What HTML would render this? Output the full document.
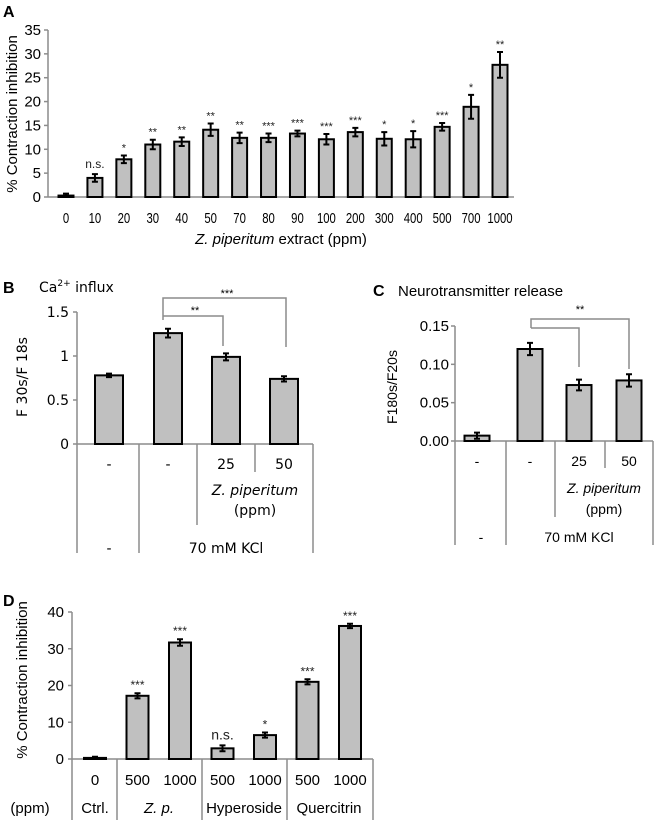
<!DOCTYPE html>
<html><head><meta charset="utf-8"><style>
body{margin:0;background:#fff}
svg{display:block;font-family:"Liberation Sans",sans-serif}
</style></head><body>
<svg id="fig" width="668" height="820" viewBox="0 0 668 820" xmlns="http://www.w3.org/2000/svg"></svg>
<script>
// Panel A data
const catsA=["0","10","20","30","40","50","70","80","90","100","200","300","400","500","700","1000"];
const valsA=[0.3,4,7.9,11,11.6,14.1,12.4,12.4,13.3,12.1,13.6,12.2,12.1,14.7,18.9,27.7];
const errA=[0.4,0.8,0.8,1,0.9,1.3,1.1,0.9,0.6,1.1,0.9,1.4,1.7,0.8,2.5,2.7];
const sigA=["","n.s.","*","**","**","**","**","***","***","***","***","*","*","***","*","**"];
const ticksA=[0,5,10,15,20,25,30,35];
// Panel B data
const valsB=[0.78,1.26,0.99,0.74];
const errB=[0.02,0.05,0.04,0.03];
const ticksB=["0","0.5","1","1.5"];
// Panel C data
const valsC=[0.007,0.12,0.073,0.079];
const errC=[0.004,0.008,0.007,0.008];
const ticksC=["0.00","0.05","0.10","0.15"];
// Panel D data
const catsD=["0","500","1000","500","1000","500","1000"];
const valsD=[0.3,17.2,31.7,2.9,6.5,21,36.2];
const errD=[0.3,0.7,0.9,0.8,0.7,0.7,0.6];
const sigD=["","***","***","n.s.","*","***","***"];
const ticksD=[0,10,20,30,40];

const svg=document.getElementById('fig');
const NS="http://www.w3.org/2000/svg";
function mk(tag,at,parent){const e=document.createElementNS(NS,tag);for(const k in at)e.setAttribute(k,at[k]);(parent||svg).appendChild(e);return e;}
function txt(s,x,y,at,name){const e=mk('text',Object.assign({x:x,y:y},at));e.textContent=s;


return e;}
function line(x1,y1,x2,y2,col,w,name){const e=mk('line',{x1,y1,x2,y2,stroke:col,'stroke-width':w});


return e;}
function bar(cx,w,y0,y1,name){const e=mk('rect',{x:cx-w/2,y:y1,width:w,height:y0-y1,fill:'#c0c0c0',stroke:'#000','stroke-width':2});


}
function errbar(cx,yt,yb,name){const g=mk('path',{d:`M${cx},${yt}V${yb}M${cx-3},${yt}H${cx+3}M${cx-3},${yb}H${cx+3}`,stroke:'#000','stroke-width':2,fill:'none'});


}
const GR='#8c8c8c';

// ---------- Panel A ----------
(function(){
 const y0=197,yTop=30,vmax=35;const ys=v=>y0-(v/vmax)*(y0-yTop);
 const x0=66,dx=(500-66)/15;const xs=i=>x0+i*dx;
 txt('A',3,17,{'font-weight':'bold','font-size':16},'panel-a-label');
 line(48,yTop,48,y0,GR,1.5,'a-y-axis');
 line(48,y0,514,y0,GR,1.5,'a-x-axis');
 ticksA.forEach(t=>{line(44,ys(t),48,ys(t),GR,1.5,'a-y-tick');txt(String(t),41,ys(t)+5,{'font-size':15,'text-anchor':'end'},'a-y-tick-label');});
 catsA.forEach((c,i)=>{
  const x=xs(i);
  bar(x,15,y0,ys(valsA[i]),'a-bar-'+c);
  errbar(x,ys(valsA[i]+errA[i]),ys(Math.max(0,valsA[i]-errA[i])),'a-error-bar');
  txt(c,x,223,{'font-size':15,'text-anchor':'middle',textLength:c.length*6.3,lengthAdjust:'spacingAndGlyphs'},'a-x-tick-label');
  if(sigA[i])txt(sigA[i],x,ys(valsA[i]+errA[i])-(sigA[i]==='n.s.'?6:4),{'font-size':sigA[i]==='n.s.'?12:11,'text-anchor':'middle',fill:'#222'},'a-significance');
 });
 const t=txt('',281,244,{'font-size':15,'text-anchor':'middle'},'a-x-axis-title');
 t.innerHTML='<tspan font-style="italic">Z. piperitum</tspan> extract (ppm)';
 txt('% Contraction inhibition',0,0,{'font-size':15,'text-anchor':'middle',transform:'translate(17,114) rotate(-90)'},'a-y-axis-title');
})();

// ---------- Panel B ----------
(function(){
 const y0=444,yTop=312,vmax=1.5;const ys=v=>y0-(v/vmax)*(y0-yTop);
 const xs=[109,168,226,284];
 const F={'font-family':'"DejaVu Sans",sans-serif'};
 txt('B',3,293,{'font-weight':'bold','font-size':16},'panel-b-label');
 const tt=txt('',39,292,Object.assign({'font-size':14},F),'b-title');tt.innerHTML='Ca<tspan font-size="9" dy="-6">2+</tspan><tspan dy="6"> influx</tspan>';
 line(77,yTop,77,553,GR,1.5,'b-y-axis');
 line(77,y0,313,y0,GR,1.5,'b-x-axis');
 ticksB.forEach(t=>{const y=ys(parseFloat(t));line(73,y,77,y,GR,1.5,'b-y-tick');txt(t,69,y+5,Object.assign({'font-size':14,'text-anchor':'end'},F),'b-y-tick-label');});
 valsB.forEach((v,i)=>{bar(xs[i],28,y0,ys(v),'b-bar');errbar(xs[i],ys(v+errB[i]),ys(v-errB[i]),'b-error-bar');});
 line(139,y0,139,553,GR,1.5,'b-table-line');line(197,y0,197,525,GR,1.5,'b-table-line');
 line(255,y0,255,472,GR,1.5,'b-table-line');line(313,y0,313,553,GR,1.5,'b-table-line');
 ["-","-","25","50"].forEach((s,i)=>txt(s,xs[i],469,Object.assign({'font-size':14,'text-anchor':'middle'},F),'b-row1-label'));
 txt('Z. piperitum',255,495,Object.assign({'font-size':14,'text-anchor':'middle','font-style':'italic'},F),'b-treatment-label');
 txt('(ppm)',255,515,Object.assign({'font-size':14,'text-anchor':'middle'},F),'b-unit-label');
 txt('-',109,553,Object.assign({'font-size':14,'text-anchor':'middle'},F),'b-row3-label');
 txt('70 mM KCl',226,553,Object.assign({'font-size':14,'text-anchor':'middle'},F),'b-kcl-label');
 txt('F 30s/F 18s',0,0,Object.assign({'font-size':14,'text-anchor':'middle',transform:'translate(27,377) rotate(-90)'},F),'b-y-axis-title');
 const p=mk('path',{d:'M163,320V298H286V347M163,316H223V346',stroke:GR,'stroke-width':1.5,fill:'none'});
 
 
 txt('***',227,297,{'font-size':11,'text-anchor':'middle'},'b-significance');
 txt('**',195,314,{'font-size':11,'text-anchor':'middle'},'b-significance');
})();

// ---------- Panel C ----------
(function(){
 const y0=441,yTop=326,vmax=0.15;const ys=v=>y0-(v/vmax)*(y0-yTop);
 const xs=[477,530,579,629];
 txt('C',373,296,{'font-weight':'bold','font-size':16},'panel-c-label');
 txt('Neurotransmitter release',398,296,{'font-size':15},'c-title');
 line(455,yTop,455,545,GR,1.5,'c-y-axis');
 line(455,y0,653,y0,GR,1.5,'c-x-axis');
 ticksC.forEach(t=>{const y=ys(parseFloat(t));line(451,y,455,y,GR,1.5,'c-y-tick');txt(t,449,y+5,{'font-size':15,'text-anchor':'end'},'c-y-tick-label');});
 valsC.forEach((v,i)=>{bar(xs[i],25,y0,ys(v),'c-bar');errbar(xs[i],ys(v+errC[i]),ys(Math.max(0,v-errC[i])),'c-error-bar');});
 line(506,y0,506,545,GR,1.5,'c-table-line');line(555,y0,555,517,GR,1.5,'c-table-line');
 line(605,y0,605,468,GR,1.5,'c-table-line');line(653,y0,653,545,GR,1.5,'c-table-line');
 ["-","-","25","50"].forEach((s,i)=>txt(s,xs[i],466,{'font-size':14,'text-anchor':'middle'},'c-row1-label'));
 txt('Z. piperitum',604,493,{'font-size':14,'text-anchor':'middle','font-style':'italic'},'c-treatment-label');
 txt('(ppm)',604,514,{'font-size':14,'text-anchor':'middle'},'c-unit-label');
 txt('-',481,542,{'font-size':14,'text-anchor':'middle'},'c-row3-label');
 txt('70 mM KCl',579,542,{'font-size':14,'text-anchor':'middle'},'c-kcl-label');
 txt('F180s/F20s',0,0,{'font-size':14,'text-anchor':'middle',transform:'translate(397,387) rotate(-90)'},'c-y-axis-title');
 const p=mk('path',{d:'M531,328V319H629V369M531,328H579V367',stroke:GR,'stroke-width':1.5,fill:'none'});
 
 
 txt('**',580,313,{'font-size':11,'text-anchor':'middle'},'c-significance');
})();

// ---------- Panel D ----------
(function(){
 const y0=759,yTop=612,vmax=40;const ys=v=>y0-(v/vmax)*(y0-yTop);
 const x0=95,dx=42.5;const xs=i=>x0+i*dx;
 txt('D',3,606,{'font-weight':'bold','font-size':16},'panel-d-label');
 line(72,yTop,72,820,GR,1.5,'d-y-axis');
 line(72,y0,373,y0,GR,1.5,'d-x-axis');
 ticksD.forEach(t=>{line(68,ys(t),72,ys(t),GR,1.5,'d-y-tick');txt(String(t),64,ys(t)+5,{'font-size':15,'text-anchor':'end'},'d-y-tick-label');});
 catsD.forEach((c,i)=>{
  const x=xs(i);
  bar(x,22,y0,ys(valsD[i]),'d-bar');
  errbar(x,ys(valsD[i]+errD[i]),ys(Math.max(0,valsD[i]-errD[i])),'d-error-bar');
  txt(c,x,785,{'font-size':15,'text-anchor':'middle'},'d-x-tick-label');
  if(sigD[i])txt(sigD[i],x,ys(valsD[i]+errD[i])-(sigD[i]==='n.s.'?6:4),{'font-size':sigD[i]==='n.s.'?14:12,'text-anchor':'middle',fill:'#222'},'d-significance');
 });
 [117,202,287,373].forEach(x=>line(x,y0,x,820,GR,1.5,'d-table-line'));
 txt('(ppm)',30,813,{'font-size':15,'text-anchor':'middle'},'d-unit-label');
 txt('Ctrl.',95,813,{'font-size':15,'text-anchor':'middle'},'d-group-ctrl');
 txt('Z. p.',159,813,{'font-size':15,'text-anchor':'middle','font-style':'italic'},'d-group-zp');
 txt('Hyperoside',244,813,{'font-size':15,'text-anchor':'middle'},'d-group-hyperoside');
 txt('Quercitrin',329,813,{'font-size':15,'text-anchor':'middle'},'d-group-quercitrin');
 txt('% Contraction inhibition',0,0,{'font-size':15,'text-anchor':'middle',transform:'translate(27,680) rotate(-90)'},'d-y-axis-title');
})();
</script>
</body></html>
